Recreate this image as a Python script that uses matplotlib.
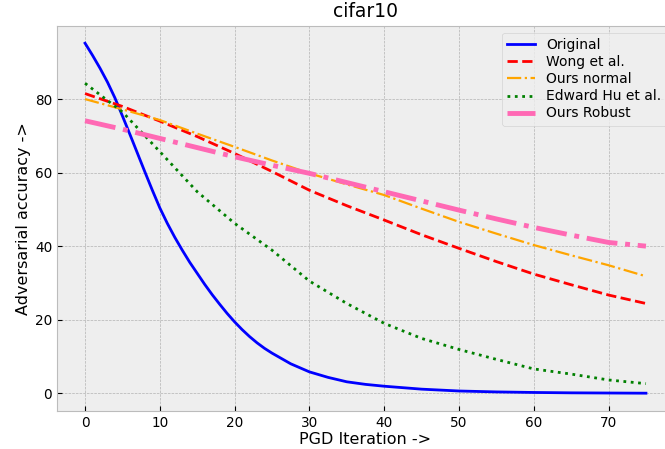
import numpy as np
import matplotlib
matplotlib.use("Agg")
import matplotlib.pyplot as plt

plt.style.use("bmh")

# PGD iterations
x_main = [0, 5, 10, 15, 20, 25, 30, 35, 40, 45, 50, 55, 60, 65, 70, 75]
x_orig = [0, 1, 2, 3, 4, 5, 6, 7, 8, 9, 10, 11, 12, 13, 14, 15, 16, 17, 18, 19, 20,
          21, 22, 23, 24, 25, 27.5, 30, 32.5, 35, 37.5, 40, 45, 50, 55, 60, 65, 70, 75]

# accuracy values
original = [95.2, 91.9, 88.4, 84.6, 80.3, 75.4, 70.4, 65.3, 60.2, 55.2, 50.4,
            46.2, 42.4, 38.9, 35.6, 32.6, 29.6, 26.8, 24.2, 21.7, 19.4,
            17.3, 15.4, 13.7, 12.2, 10.9, 8.0, 5.8, 4.3, 3.1, 2.4, 1.9, 1.1, 0.6,
            0.35, 0.2, 0.1, 0.05, 0.0]
wong = [81.5, 78.0, 74.0, 69.8, 65.2, 60.3, 55.2, 51.0, 47.1, 43.1, 39.4, 35.8, 32.4, 29.5, 26.7, 24.4]
ours_normal = [80.0, 77.2, 74.3, 70.6, 67.0, 63.3, 59.8, 56.8, 53.9, 50.2, 46.6, 43.4, 40.3, 37.5, 34.8, 31.8]
edward_hu = [84.3, 76.5, 65.7, 54.8, 46.2, 38.9, 30.5, 24.4, 19.0, 14.9, 11.9, 9.2, 6.6, 5.2, 3.6, 2.6]
ours_robust = [74.1, 71.8, 69.3, 66.8, 64.3, 62.0, 59.8, 57.3, 54.8, 52.3, 49.8, 47.4, 45.1, 43.0, 41.0, 40.0]

fig = plt.figure(figsize=(6.65, 4.49), dpi=100)
ax = fig.add_axes([57 / 665, 38.3 / 449, 617 / 665, 385 / 449])

ax.plot(x_orig, original, color="blue", lw=2, label="Original")
ax.plot(x_main, wong, color="red", lw=2, ls="--", label="Wong et al.")
ax.plot(x_main, ours_normal, color="orange", lw=1.6, ls="-.", label="Ours normal")
ax.plot(x_main, edward_hu, color="green", lw=2, ls=":", label="Edward Hu et al.")
ax.plot(x_main, ours_robust, color="hotpink", lw=3.5, ls="-.", label="Ours Robust")

ax.set_xticks([0, 10, 20, 30, 40, 50, 60, 70])
ax.set_yticks([0, 20, 40, 60, 80])
ax.tick_params(labelsize=9.8)
ax.set_title("cifar10", fontsize=13.5)
ax.set_xlabel("PGD Iteration ->", fontsize=11.5, labelpad=2)
ax.set_ylabel("Adversarial accuracy ->", fontsize=11.5, labelpad=3)
ax.legend(loc="upper right", labelspacing=0.22)

fig.savefig("out.png", dpi=100)
